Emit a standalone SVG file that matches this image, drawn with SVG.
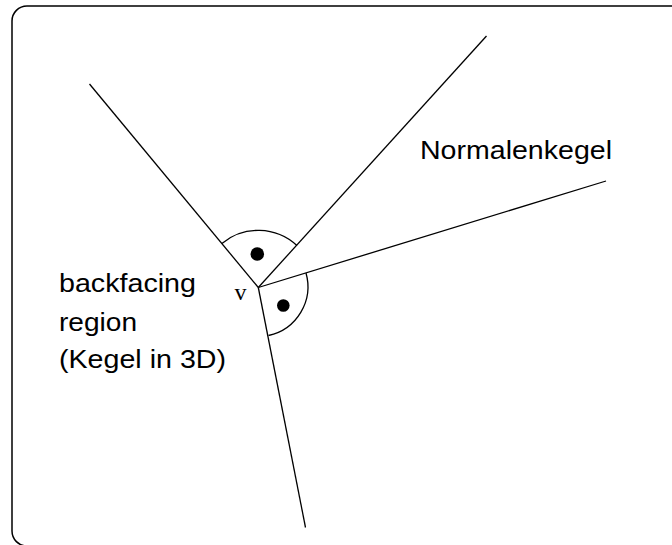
<svg xmlns="http://www.w3.org/2000/svg" width="672" height="545" viewBox="0 0 672 545">
  <style>
    .frame { fill: none; stroke: #000; stroke-width: 1.5; }
    .edge { fill: none; stroke: #000; stroke-width: 1.3; }
    .label { font-family: "Liberation Sans", Arial, sans-serif; font-size: 25.5px; fill: #000; }
    .vlabel { font-family: "Liberation Serif", "Times New Roman", serif; font-size: 24px; fill: #000; }
  </style>
  <rect width="672" height="545" fill="#fff"/>
  <rect class="frame" x="12" y="6" width="700" height="540" rx="15" ry="15"/>

  <g id="connectors">
    <line class="edge" x1="89.5" y1="84" x2="258.3" y2="287.5"/>
    <line class="edge" x1="486.5" y1="36" x2="258.3" y2="287.5"/>
    <line class="edge" x1="606" y1="181" x2="258.3" y2="287.5"/>
    <line class="edge" x1="258.3" y1="287.5" x2="305.5" y2="527.5"/>
  </g>

  <g id="angle-upper">
    <path class="edge" d="M 221.9 243.4 A 57 57 0 0 1 296.9 245.5"/>
    <circle cx="257.3" cy="254" r="6.8" fill="#000"/>
  </g>

  <g id="angle-lower">
    <path class="edge" d="M 306 273 A 50 50 0 0 1 268.5 335.5"/>
    <circle cx="283.3" cy="305.5" r="6.3" fill="#000"/>
  </g>

  <g id="vertex-v">
    <text class="vlabel" x="234.5" y="300">v</text>
  </g>

  <g id="normal-cone">
    <text class="label" x="420" y="159" textLength="192" lengthAdjust="spacingAndGlyphs">Normalenkegel</text>
  </g>

  <g id="backfacing-region">
    <text class="label" x="59" y="292" textLength="137" lengthAdjust="spacingAndGlyphs">backfacing</text>
    <text class="label" x="59" y="330.5" textLength="78" lengthAdjust="spacingAndGlyphs">region</text>
    <text class="label" x="59" y="367.5" textLength="167" lengthAdjust="spacingAndGlyphs">(Kegel in 3D)</text>
  </g>
</svg>
